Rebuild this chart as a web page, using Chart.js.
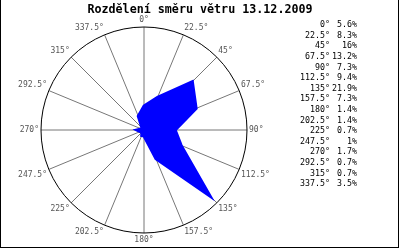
<!DOCTYPE html>
<html>
<head>
<meta charset="utf-8">
<script src="https://cdn.jsdelivr.net/npm/chart.js@4/dist/chart.umd.min.js"></script>
<style>
  html, body { margin: 0; padding: 0; background: #fff; }
  #obal { position: relative; width: 400px; height: 250px; overflow: hidden; }
  canvas { display: block; position: absolute; left: 0; top: 0; }
  .mono { font-family: "DejaVu Sans Mono", "Liberation Mono", monospace; color: #000; }
  #nadpis { position: absolute; left: 0; top: 2px; width: 400px; text-align: center;
    font-size: 11.7px; font-weight: bold; line-height: 14px; white-space: nowrap; }
  #seznam { position: absolute; left: 280px; top: 19.2px; font-size: 8.3px; }
  #seznam div { height: 10.6px; line-height: 10.6px; white-space: nowrap; }
  #seznam span { display: inline-block; text-align: right; }
  #seznam .smer { width: 50px; }
  #seznam .podil { width: 27px; }
  #ramecek { position: absolute; left: 0; top: -1px; width: 397px; height: 248px;
    border: 1px solid #000; border-top: none; }
</style>
</head>
<body>
<div id="obal">
  <canvas id="grafica-vitr" width="400" height="250"></canvas>
  <div id="nadpis" class="mono"></div>
  <div id="seznam" class="mono"></div>
  <div id="ramecek"></div>
</div>
<script>
// směry (stupně) a podíl větru v procentech
const smery = ['0°', '22.5°', '45°', '67.5°', '90°', '112.5°', '135°', '157.5°',
  '180°', '202.5°', '225°', '247.5°', '270°', '292.5°', '315°', '337.5°'];
const podily = [5.6, 8.3, 16, 13.2, 7.3, 9.4, 21.9, 7.3, 1.4, 1.4, 0.7, 1, 1.7, 0.7, 0.7, 3.5];
const maxOsy = 24.09;
const nadpis = 'Rozdělení směru větru 13.12.2009';

const pismoMono = '"DejaVu Sans Mono", "Liberation Mono", monospace';

document.getElementById('nadpis').textContent = nadpis;
document.getElementById('seznam').innerHTML = smery
  .map((smer, i) => `<div><span class="smer">${smer}</span><span class="podil">${podily[i]}%</span></div>`)
  .join('');

// paprsky ke směrům + kruh kolem grafu, podle geometrie osy r
const kruhAPaprsky = {
  id: 'kruhAPaprsky',
  beforeDatasetsDraw(chart) {
    const r = chart.scales.r;
    const ctx = chart.ctx;
    const polomer = r.getDistanceFromCenterForValue(maxOsy);
    ctx.save();
    ctx.lineWidth = 1;
    ctx.strokeStyle = '#777777';
    smery.forEach((smer, i) => {
      const bod = r.getPointPosition(i, polomer);
      ctx.beginPath();
      ctx.moveTo(r.xCenter, r.yCenter);
      ctx.lineTo(bod.x, bod.y);
      ctx.stroke();
    });
    ctx.strokeStyle = '#000000';
    ctx.beginPath();
    ctx.arc(r.xCenter, r.yCenter, polomer, 0, Math.PI * 2);
    ctx.stroke();
    ctx.restore();
  },
};

new Chart(document.getElementById('grafica-vitr'), {
  type: 'radar',
  data: {
    labels: smery,
    datasets: [{ data: podily, backgroundColor: '#0000ff', borderColor: '#0000ff', pointRadius: 0, fill: true }],
  },
  options: {
    responsive: false,
    animation: false,
    devicePixelRatio: 1,
    layout: { padding: { left: 4, right: 116, top: 15.4, bottom: 4 } },
    plugins: { legend: { display: false }, tooltip: { enabled: false }, title: { display: false } },
    scales: {
      r: {
        min: 0,
        max: maxOsy,
        ticks: { display: false, stepSize: maxOsy },
        grid: { display: false, color: 'rgba(0,0,0,0)' },
        border: { display: false, color: 'rgba(0,0,0,0)' },
        angleLines: { display: false },
        pointLabels: { color: '#555555', font: { family: pismoMono, size: 8 }, padding: 2 },
      },
    },
  },
  plugins: [kruhAPaprsky],
});
</script>
</body>
</html>
